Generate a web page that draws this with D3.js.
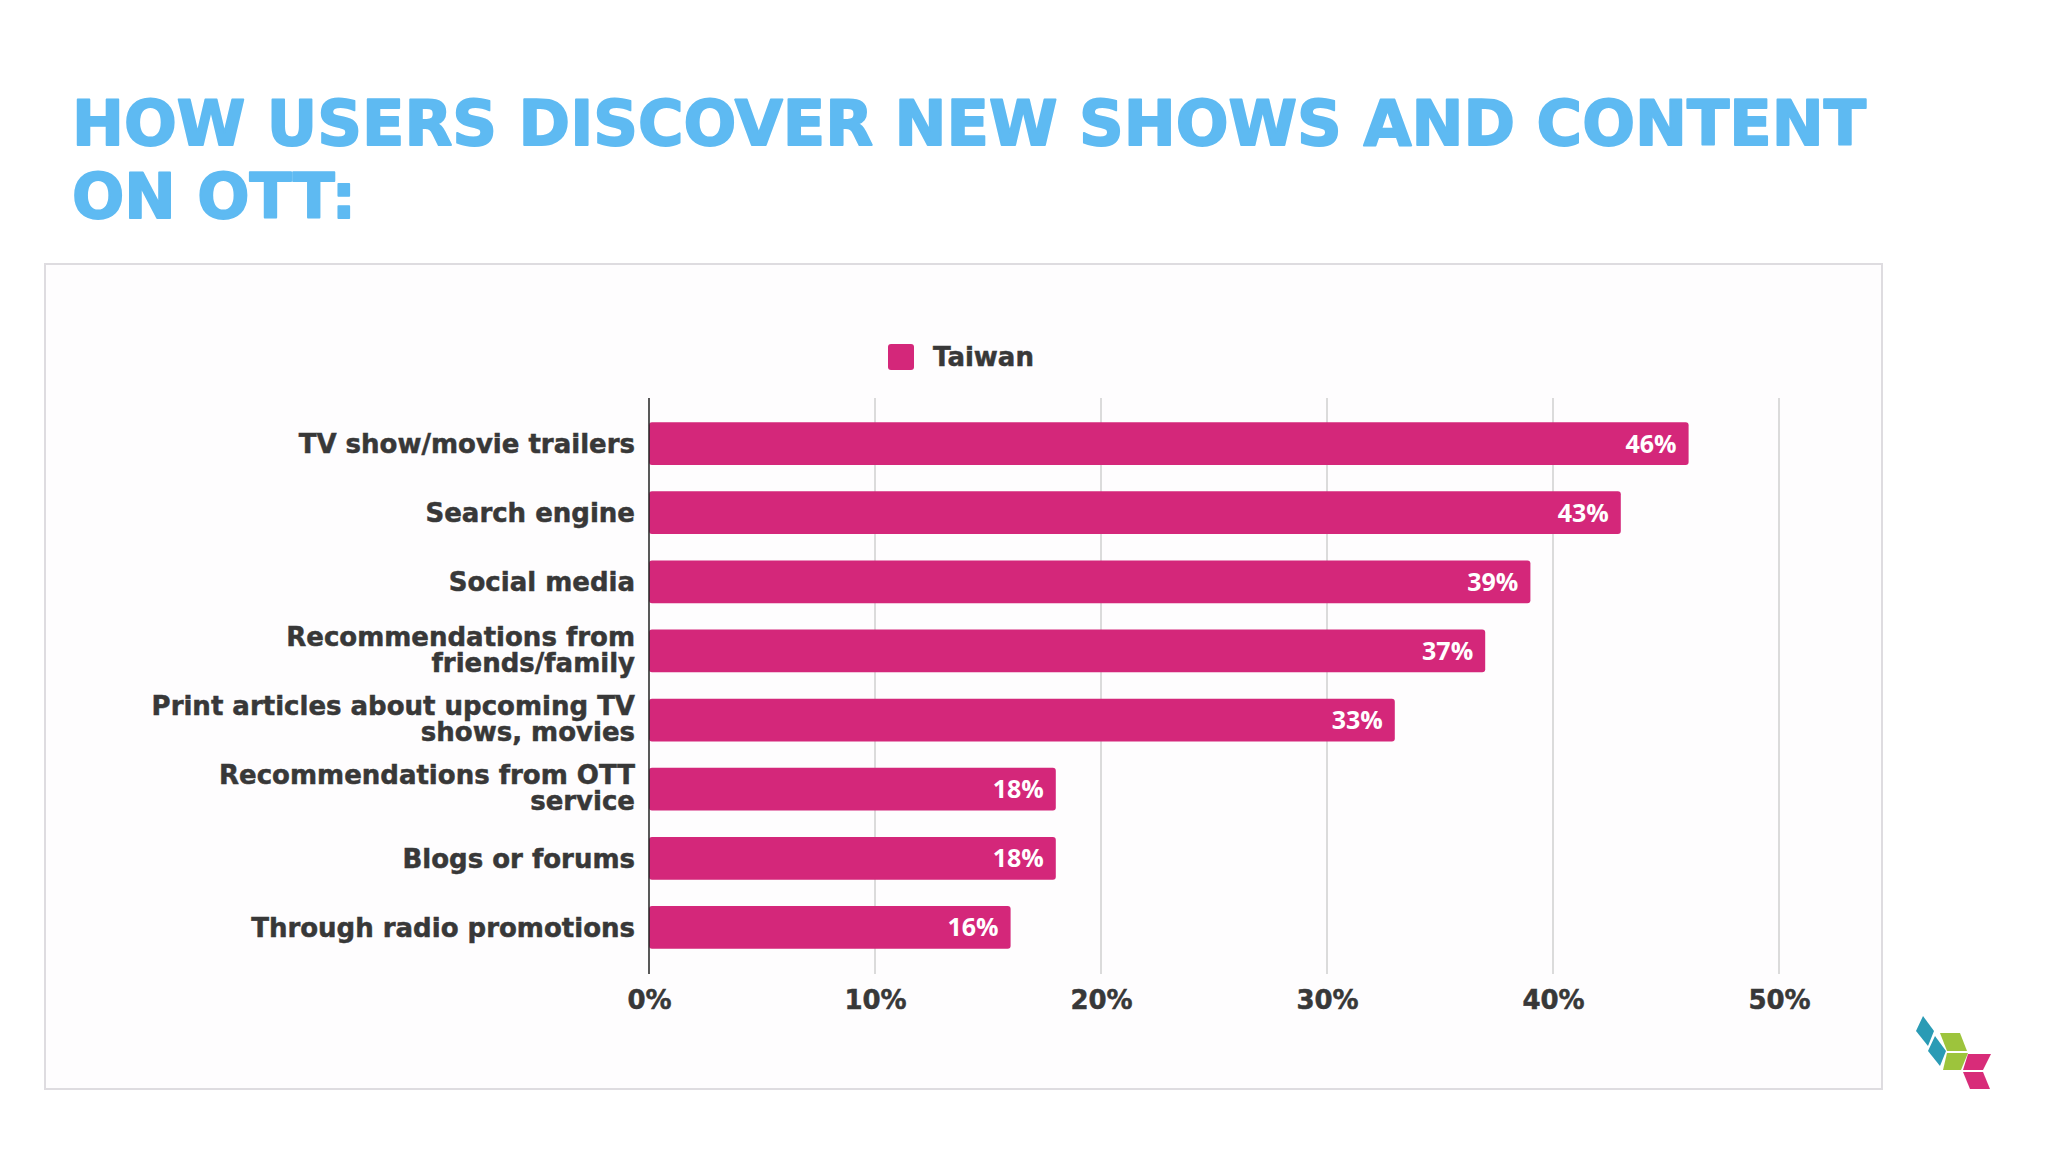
<!DOCTYPE html>
<html>
<head>
<meta charset="utf-8">
<script src="https://cdn.jsdelivr.net/npm/d3@7"></script>
<style>
  html, body { margin: 0; padding: 0; background: #ffffff; }
  svg { display: block; }
</style>
</head>
<body>
<script>
// ---- data ----
const titleLines = ["HOW USERS DISCOVER NEW SHOWS AND CONTENT", "ON OTT:"];
const seriesName = "Taiwan";
const categories = [
  "TV show/movie trailers",
  "Search engine",
  "Social media",
  "Recommendations from\nfriends/family",
  "Print articles about upcoming TV\nshows, movies",
  "Recommendations from OTT\nservice",
  "Blogs or forums",
  "Through radio promotions"
];
const values = [46, 43, 39, 37, 33, 18, 18, 16];
const tickValues = [0, 10, 20, 30, 40, 50];
const tickLabels = ["0%", "10%", "20%", "30%", "40%", "50%"];

// ---- setup ----
const W = 2048, H = 1152;
const barColor = "#d4277a";
const textColor = "#383838";
const strokeW = 0.5;
const svg = d3.select("body").append("svg").attr("width", W).attr("height", H);

svg.append("rect").attr("width", W).attr("height", H).attr("fill", "#ffffff");

// title
const titleWidths = [1794, 284];
titleLines.forEach((t, i) => {
  svg.append("text")
    .attr("x", 72).attr("y", 145 + i * 73)
    .attr("font-family", "DejaVu Sans").attr("font-weight", "bold")
    .attr("font-size", 62).attr("fill", "#5ebaf2")
    .attr("stroke", "#5ebaf2").attr("stroke-width", 1.8).attr("stroke-linejoin", "round")
    .attr("textLength", titleWidths[i]).attr("lengthAdjust", "spacingAndGlyphs")
    .text(t);
});

// chart box
svg.append("rect").attr("x", 45).attr("y", 264).attr("width", 1837).attr("height", 825)
  .attr("fill", "#fefdfe").attr("stroke", "#dedce0").attr("stroke-width", 2);

// scales
const x = d3.scaleLinear().domain([0, 50]).range([649, 1779]);
const y = d3.scaleBand().domain(categories).range([409, 962]).paddingInner(0.38).paddingOuter(0.19);

const gridTop = 398, gridBottom = 974;

// gridlines
svg.append("g").selectAll("line").data(tickValues.slice(1)).join("line")
  .attr("x1", d => x(d)).attr("x2", d => x(d))
  .attr("y1", gridTop).attr("y2", gridBottom)
  .attr("stroke", "#cfcfcf").attr("stroke-width", 1.5);

// bottom axis labels via d3 axis
const xAxis = d3.axisBottom(x).tickValues(tickValues).tickFormat((d, i) => tickLabels[i]).tickSize(0).tickPadding(0);
const gx = svg.append("g").attr("transform", `translate(0, 990)`).call(xAxis);
gx.select(".domain").remove();
gx.selectAll("text")
  .attr("dy", "0.72em")
  .attr("font-family", "DejaVu Sans").attr("font-weight", "bold")
  .attr("font-size", 26).attr("fill", textColor)
  .attr("stroke", textColor).attr("stroke-width", strokeW);

// bars
svg.append("g").selectAll("rect").data(values).join("rect")
  .attr("x", x(0))
  .attr("y", (d, i) => y(categories[i]))
  .attr("width", d => x(d) - x(0))
  .attr("height", y.bandwidth())
  .attr("rx", 3)
  .attr("fill", barColor);

// value labels
svg.append("g").selectAll("text").data(values).join("text")
  .attr("x", d => x(d) - 12)
  .attr("y", (d, i) => y(categories[i]) + y.bandwidth() / 2 + 9)
  .attr("text-anchor", "end")
  .attr("font-family", "Open Sans").attr("font-weight", "bold")
  .attr("font-size", 25).attr("fill", "#ffffff")
  .text(d => d + "%");

// y axis line
svg.append("line").attr("x1", x(0)).attr("x2", x(0)).attr("y1", gridTop).attr("y2", gridBottom)
  .attr("stroke", "#222").attr("stroke-width", 1.5);

// category labels
const lab = svg.append("g");
categories.forEach((c, i) => {
  const lines = c.split("\n");
  const cy = y(c) + y.bandwidth() / 2;
  const t = lab.append("text")
    .attr("text-anchor", "end")
    .attr("font-family", "DejaVu Sans").attr("font-weight", "bold")
    .attr("font-size", 26).attr("fill", textColor)
    .attr("stroke", textColor).attr("stroke-width", strokeW);
  if (lines.length === 1) {
    t.append("tspan").attr("x", 635).attr("y", cy + 9.5).text(lines[0]);
  } else {
    lines.forEach((l, j) => {
      t.append("tspan").attr("x", 635).attr("y", cy - 5 + j * 26).text(l);
    });
  }
});

// legend
svg.append("rect").attr("x", 888).attr("y", 344).attr("width", 26).attr("height", 26).attr("rx", 3)
  .attr("fill", barColor);
svg.append("text").attr("x", 933).attr("y", 366)
  .attr("font-family", "DejaVu Sans").attr("font-weight", "bold")
  .attr("font-size", 26).attr("fill", textColor)
  .attr("stroke", textColor).attr("stroke-width", strokeW)
  .text(seriesName);

// logo
const logo = svg.append("g");
const shapes = [
  {c: "#2a9bb5", p: [[1923,1016],[1934,1031],[1928,1046],[1916,1031]]},
  {c: "#2a9bb5", p: [[1935,1036],[1946,1051],[1940,1066],[1928,1051]]},
  {c: "#9dc43c", p: [[1940,1033],[1960,1033],[1967,1051],[1947,1051]]},
  {c: "#9dc43c", p: [[1947,1053],[1968,1053],[1961,1070],[1943,1070]]},
  {c: "#d82c79", p: [[1968,1054],[1991,1054],[1983,1070],[1963,1070]]},
  {c: "#d82c79", p: [[1963,1072],[1983,1072],[1990,1089],[1970,1089]]}
];
shapes.forEach(s => {
  logo.append("polygon").attr("points", s.p.map(q => q.join(",")).join(" ")).attr("fill", s.c);
});
</script>
</body>
</html>
